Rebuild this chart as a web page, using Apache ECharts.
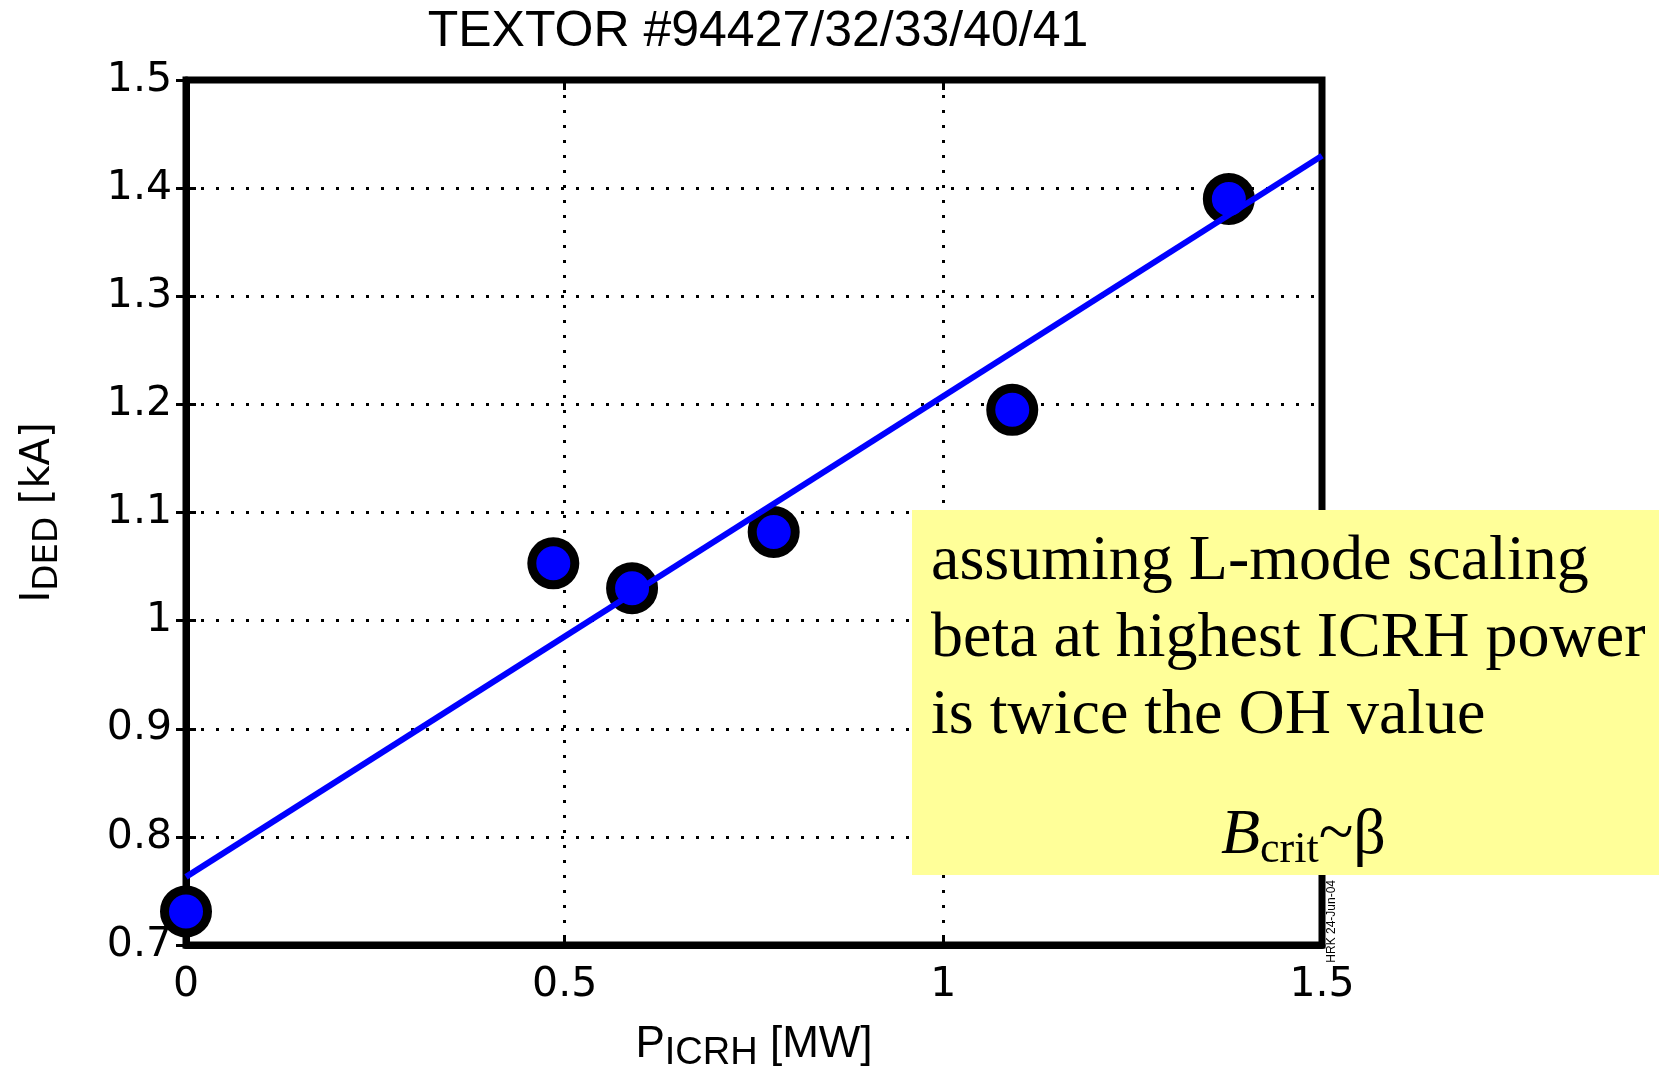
<!DOCTYPE html>
<html>
<head>
<meta charset="utf-8">
<script src="https://cdn.jsdelivr.net/npm/echarts@6/dist/echarts.min.js"></script>
<style>
html,body{margin:0;padding:0;background:#fff;}
#chart{width:1659px;height:1078px;}
</style>
</head>
<body>
<div id="chart"></div>
<script>
// Data
const titleText = 'TEXTOR #94427/32/33/40/41';
const powerMW = [0, 0.485, 0.589, 0.776, 1.091, 1.377];
const currentKA = [0.731, 1.053, 1.030, 1.082, 1.195, 1.390];
const fitX = [0, 1.5];
const fitY = [0.763, 1.430];
const xTicks = [0, 0.5, 1, 1.5];
const yTicks = [0.7, 0.8, 0.9, 1, 1.1, 1.2, 1.3, 1.4, 1.5];
const noteLines = ['assuming L-mode scaling', 'beta at highest ICRH power', 'is twice the OH value'];

const chart = echarts.init(document.getElementById('chart'), null, {renderer: 'canvas'});

const labelFont = 'DejaVu Sans';
const narrowFont = '"Liberation Sans Narrow", "Liberation Sans", Arial, sans-serif';
const dotted = {color: '#000', width: 3, type: [3, 12]};

const scatterData = powerMW.map((x, i) => [x, currentKA[i]]);
const fitData = fitX.map((x, i) => [x, fitY[i]]);

chart.setOption({
  backgroundColor: '#fff',
  animation: false,
  title: {
    text: titleText,
    left: 753, top: 2, textAlign: 'center',
    textStyle: {fontFamily: narrowFont, fontSize: 50, fontWeight: 'normal', color: '#000'}
  },
  grid: {left: 186, right: 337, top: 80, bottom: 133, containLabel: false, outerBoundsMode: 'none',
         show: true, borderColor: '#000', borderWidth: 7, backgroundColor: 'transparent'},
  xAxis: [{
    type: 'value', min: 0, max: 1.5, interval: 0.5, position: 'bottom',
    axisLine: {show: true, lineStyle: {color: '#000', width: 7}},
    axisTick: {show: true, inside: true, length: 10, lineStyle: {color: '#000', width: 3}},
    axisLabel: {fontFamily: labelFont, fontSize: 41, color: '#000', margin: 20,
      formatter: v => { const t = xTicks.find(k => Math.abs(k - v) < 1e-9); return t === undefined ? '' : String(t); }},
    splitLine: {show: true, lineStyle: dotted},
    name: '{m|P}{s|ICRH}{m| [MW]}', nameLocation: 'middle', nameGap: 78, nameMoveOverlap: false,
    nameTextStyle: {fontFamily: narrowFont, color: '#000',
      rich: {m: {fontFamily: narrowFont, fontSize: 44, color: '#000', verticalAlign: 'top', lineHeight: 50},
             s: {fontFamily: narrowFont, fontSize: 38, color: '#000', verticalAlign: 'bottom', lineHeight: 50, padding: [36, 0, 0, 0]}}}
  }, {
    type: 'value', min: 0, max: 1.5, interval: 0.5, position: 'top',
    axisLine: {show: false}, axisLabel: {show: false}, splitLine: {show: false},
    axisTick: {show: true, inside: true, length: 10, lineStyle: {color: '#000', width: 3}}
  }],
  yAxis: [{
    type: 'value', min: 0.7, max: 1.5, interval: 0.1, position: 'left',
    axisLine: {show: true, lineStyle: {color: '#000', width: 7}},
    axisTick: {show: true, inside: true, length: 10, lineStyle: {color: '#000', width: 3}},
    axisLabel: {fontFamily: labelFont, fontSize: 41, color: '#000', margin: 14,
      formatter: v => { const t = yTicks.find(k => Math.abs(k - v) < 1e-9); return t === undefined ? '' : String(t); }},
    splitLine: {show: true, lineStyle: dotted},
    name: '{m|I}{s|DED}{m| [kA]}', nameLocation: 'middle', nameGap: 121, nameRotate: 90, nameMoveOverlap: false,
    nameTextStyle: {fontFamily: labelFont, color: '#000',
      rich: {m: {fontFamily: labelFont, fontSize: 40, color: '#000', verticalAlign: 'top', lineHeight: 46},
             s: {fontFamily: labelFont, fontSize: 34, color: '#000', verticalAlign: 'bottom', lineHeight: 46, padding: [24, 0, 0, 0]}}}
  }, {
    type: 'value', min: 0.7, max: 1.5, interval: 0.1, position: 'right',
    axisLine: {show: false}, axisLabel: {show: false}, splitLine: {show: false},
    axisTick: {show: true, inside: true, length: 10, lineStyle: {color: '#000', width: 3}}
  }],
  series: [{
    type: 'scatter', data: scatterData, symbol: 'circle', symbolSize: 43, z: 3,
    itemStyle: {color: '#0000ff', borderColor: '#000', borderWidth: 9, opacity: 1},
    clip: false
  }, {
    type: 'line', data: fitData, symbol: 'none', z: 4,
    lineStyle: {color: '#0000ff', width: 6}
  }],
  graphic: [{
    type: 'text', z: 50,
    left: 1326, top: 880, rotation: Math.PI / 2,
    style: {text: 'HRK 24-Jun-04', fontFamily: 'Liberation Sans', fontSize: 12, fill: '#000'}
  }, {
    type: 'rect', z: 100,
    shape: {x: 912, y: 510, width: 747, height: 365},
    style: {fill: '#ffff99'}
  }, {
    type: 'text', z: 101, left: 931, top: 524,
    style: {text: noteLines.join('\n'), fontFamily: '"Liberation Serif", "Times New Roman", serif', fontSize: 64, lineHeight: 77, fill: '#000'}
  }, {
    type: 'text', z: 101, left: 1221, top: 794,
    style: {
      text: '{b|B}{s|crit}{n|~β}',
      rich: {
        b: {fontFamily: '"Liberation Serif", serif', fontStyle: 'italic', fontSize: 64, fill: '#000', verticalAlign: 'top', lineHeight: 68},
        s: {fontFamily: '"Liberation Serif", serif', fontSize: 44, fill: '#000', verticalAlign: 'bottom', lineHeight: 68, padding: [34, 0, 0, 0]},
        n: {fontFamily: '"Liberation Serif", serif', fontSize: 64, fill: '#000', verticalAlign: 'top', lineHeight: 68}
      }
    }
  }]
});
</script>
</body>
</html>
